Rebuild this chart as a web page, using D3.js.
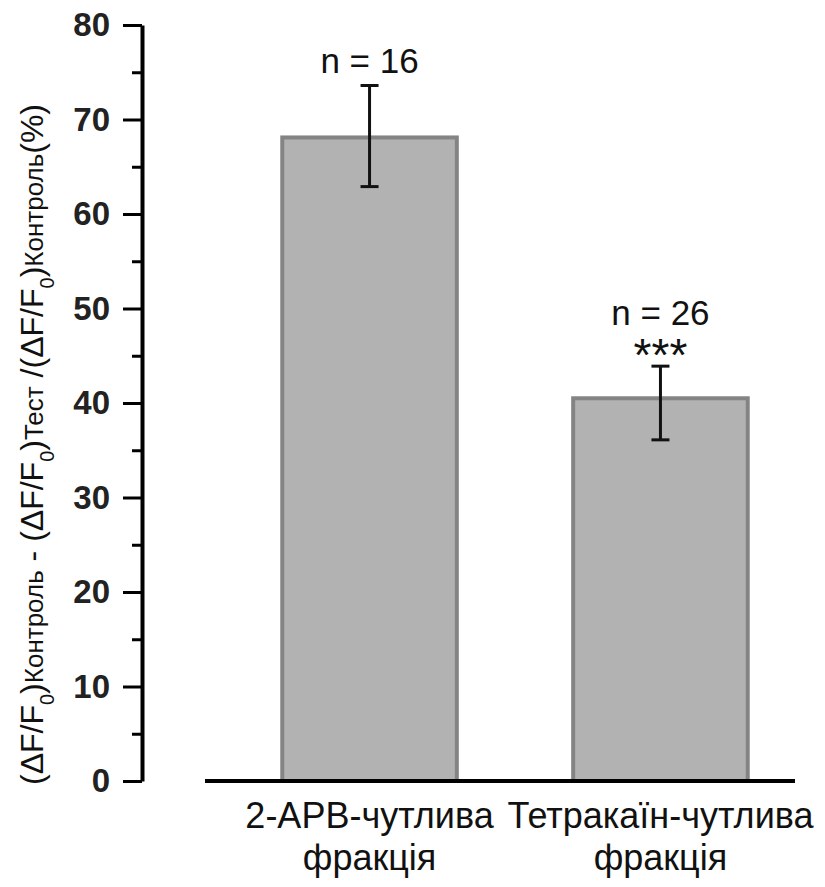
<!DOCTYPE html>
<html>
<head>
<meta charset="utf-8">
<script src="https://cdn.jsdelivr.net/npm/d3@7"></script>
<style>
  body { margin: 0; background: #fff; }
  svg { display: block; }
  .lbl { font-family: "Liberation Sans", Arial, sans-serif; }
</style>
</head>
<body>
<svg id="chart" width="825" height="887"></svg>
<script>
const categories = ["2-APB-чутлива", "Тетракаїн-чутлива"];
const categoryLine2 = ["фракція", "фракція"];
const means = [68.1, 40.5];
const errLow = [62.9, 36.1];
const errHigh = [73.6, 43.9];
const nLabels = ["n = 16", "n = 26"];
const sigLabels = ["", "***"];
const majorTicks = [0, 10, 20, 30, 40, 50, 60, 70, 80];
const minorTicks = [5, 15, 25, 35, 45, 55, 65, 75];

const svg = d3.select("#chart");
const axisX = 142;
const baseY = 781;

const y = d3.scaleLinear().domain([0, 80]).range([baseY, 25]);
const x = d3.scaleBand()
  .domain(categories)
  .range([195, 835])
  .paddingInner(0.4)
  .paddingOuter(0.3);
const cx = (d) => x(d) + x.bandwidth() / 2;

// bars
svg.append("g")
  .selectAll("rect")
  .data(categories)
  .join("rect")
  .attr("x", (d) => x(d))
  .attr("y", (d, i) => y(means[i]))
  .attr("width", x.bandwidth())
  .attr("height", (d, i) => baseY - y(means[i]))
  .attr("fill", "#b2b2b2")
  .attr("stroke", "#848484")
  .attr("stroke-width", 4);

// error bars
const err = svg.append("g").attr("stroke", "#111").attr("stroke-width", 3);
categories.forEach((c, i) => {
  const hi = y(errHigh[i]);
  const lo = y(errLow[i]);
  err.append("line").attr("x1", cx(c)).attr("x2", cx(c)).attr("y1", hi).attr("y2", lo);
  err.append("line").attr("x1", cx(c) - 9).attr("x2", cx(c) + 9).attr("y1", hi).attr("y2", hi);
  err.append("line").attr("x1", cx(c) - 9).attr("x2", cx(c) + 9).attr("y1", lo).attr("y2", lo);
});

// n labels
svg.append("g")
  .selectAll("text")
  .data(categories)
  .join("text")
  .attr("class", "lbl")
  .attr("x", cx)
  .attr("y", (d, i) => y(errHigh[i]) - (sigLabels[i] ? 41 : 12))
  .attr("text-anchor", "middle")
  .attr("font-size", 35)
  .attr("fill", "#111")
  .text((d, i) => nLabels[i]);

// significance stars
svg.append("g")
  .selectAll("text")
  .data(categories.filter((d, i) => sigLabels[i]))
  .join("text")
  .attr("class", "lbl")
  .attr("x", cx)
  .attr("y", (d) => y(errHigh[categories.indexOf(d)]) + 5)
  .attr("text-anchor", "middle")
  .attr("font-size", 46)
  .attr("fill", "#111")
  .text((d) => sigLabels[categories.indexOf(d)]);

// x axis baseline
svg.append("line")
  .attr("x1", 205).attr("x2", 795)
  .attr("y1", baseY).attr("y2", baseY)
  .attr("stroke", "#000")
  .attr("stroke-width", 4);

// x category labels
const xl = svg.append("g").attr("class", "lbl").attr("font-size", 36).attr("fill", "#111").attr("text-anchor", "middle");
categories.forEach((c, i) => {
  xl.append("text").attr("x", cx(c)).attr("y", 828).text(c);
  xl.append("text").attr("x", cx(c)).attr("y", 870).text(categoryLine2[i]);
});

// y axis
const yAxis = svg.append("g")
  .attr("transform", `translate(${axisX},0)`)
  .call(d3.axisLeft(y).tickValues(majorTicks).tickSize(19).tickPadding(13).tickSizeOuter(0));
yAxis.select(".domain").attr("stroke-width", 4);
yAxis.selectAll(".tick line").attr("stroke-width", 3);
yAxis.selectAll(".tick text")
  .attr("class", "lbl")
  .attr("font-size", 33)
  .attr("font-weight", "bold")
  .attr("fill", "#222");

svg.append("g")
  .attr("transform", `translate(${axisX},0)`)
  .call(d3.axisLeft(y).tickValues(minorTicks).tickSize(10).tickFormat(""))
  .call((g) => g.select(".domain").remove())
  .selectAll(".tick line").attr("stroke-width", 3);

// y title (rotated)
const title = svg.append("text")
  .attr("class", "lbl")
  .attr("transform", `translate(43,${(97 + 792) / 2}) rotate(-90)`)
  .attr("text-anchor", "middle")
  .attr("font-size", 32)
  .attr("fill", "#111");
const parts = [
  ["(ΔF/F", 0], ["0", 1], [")", 0], ["Контроль", 2], [" - (ΔF/F", 0], ["0", 1], [")", 0], ["Тест", 2],
  [" /(ΔF/F", 0], ["0", 1], [")", 0], ["Контроль", 2], ["(%)", 0]
];
parts.forEach(([t, kind]) => {
  const ts = title.append("tspan").text(t);
  if (kind === 1) ts.attr("baseline-shift", "sub").attr("font-size", 20);
  if (kind === 2) ts.attr("font-size", 26);
});
</script>
</body>
</html>
